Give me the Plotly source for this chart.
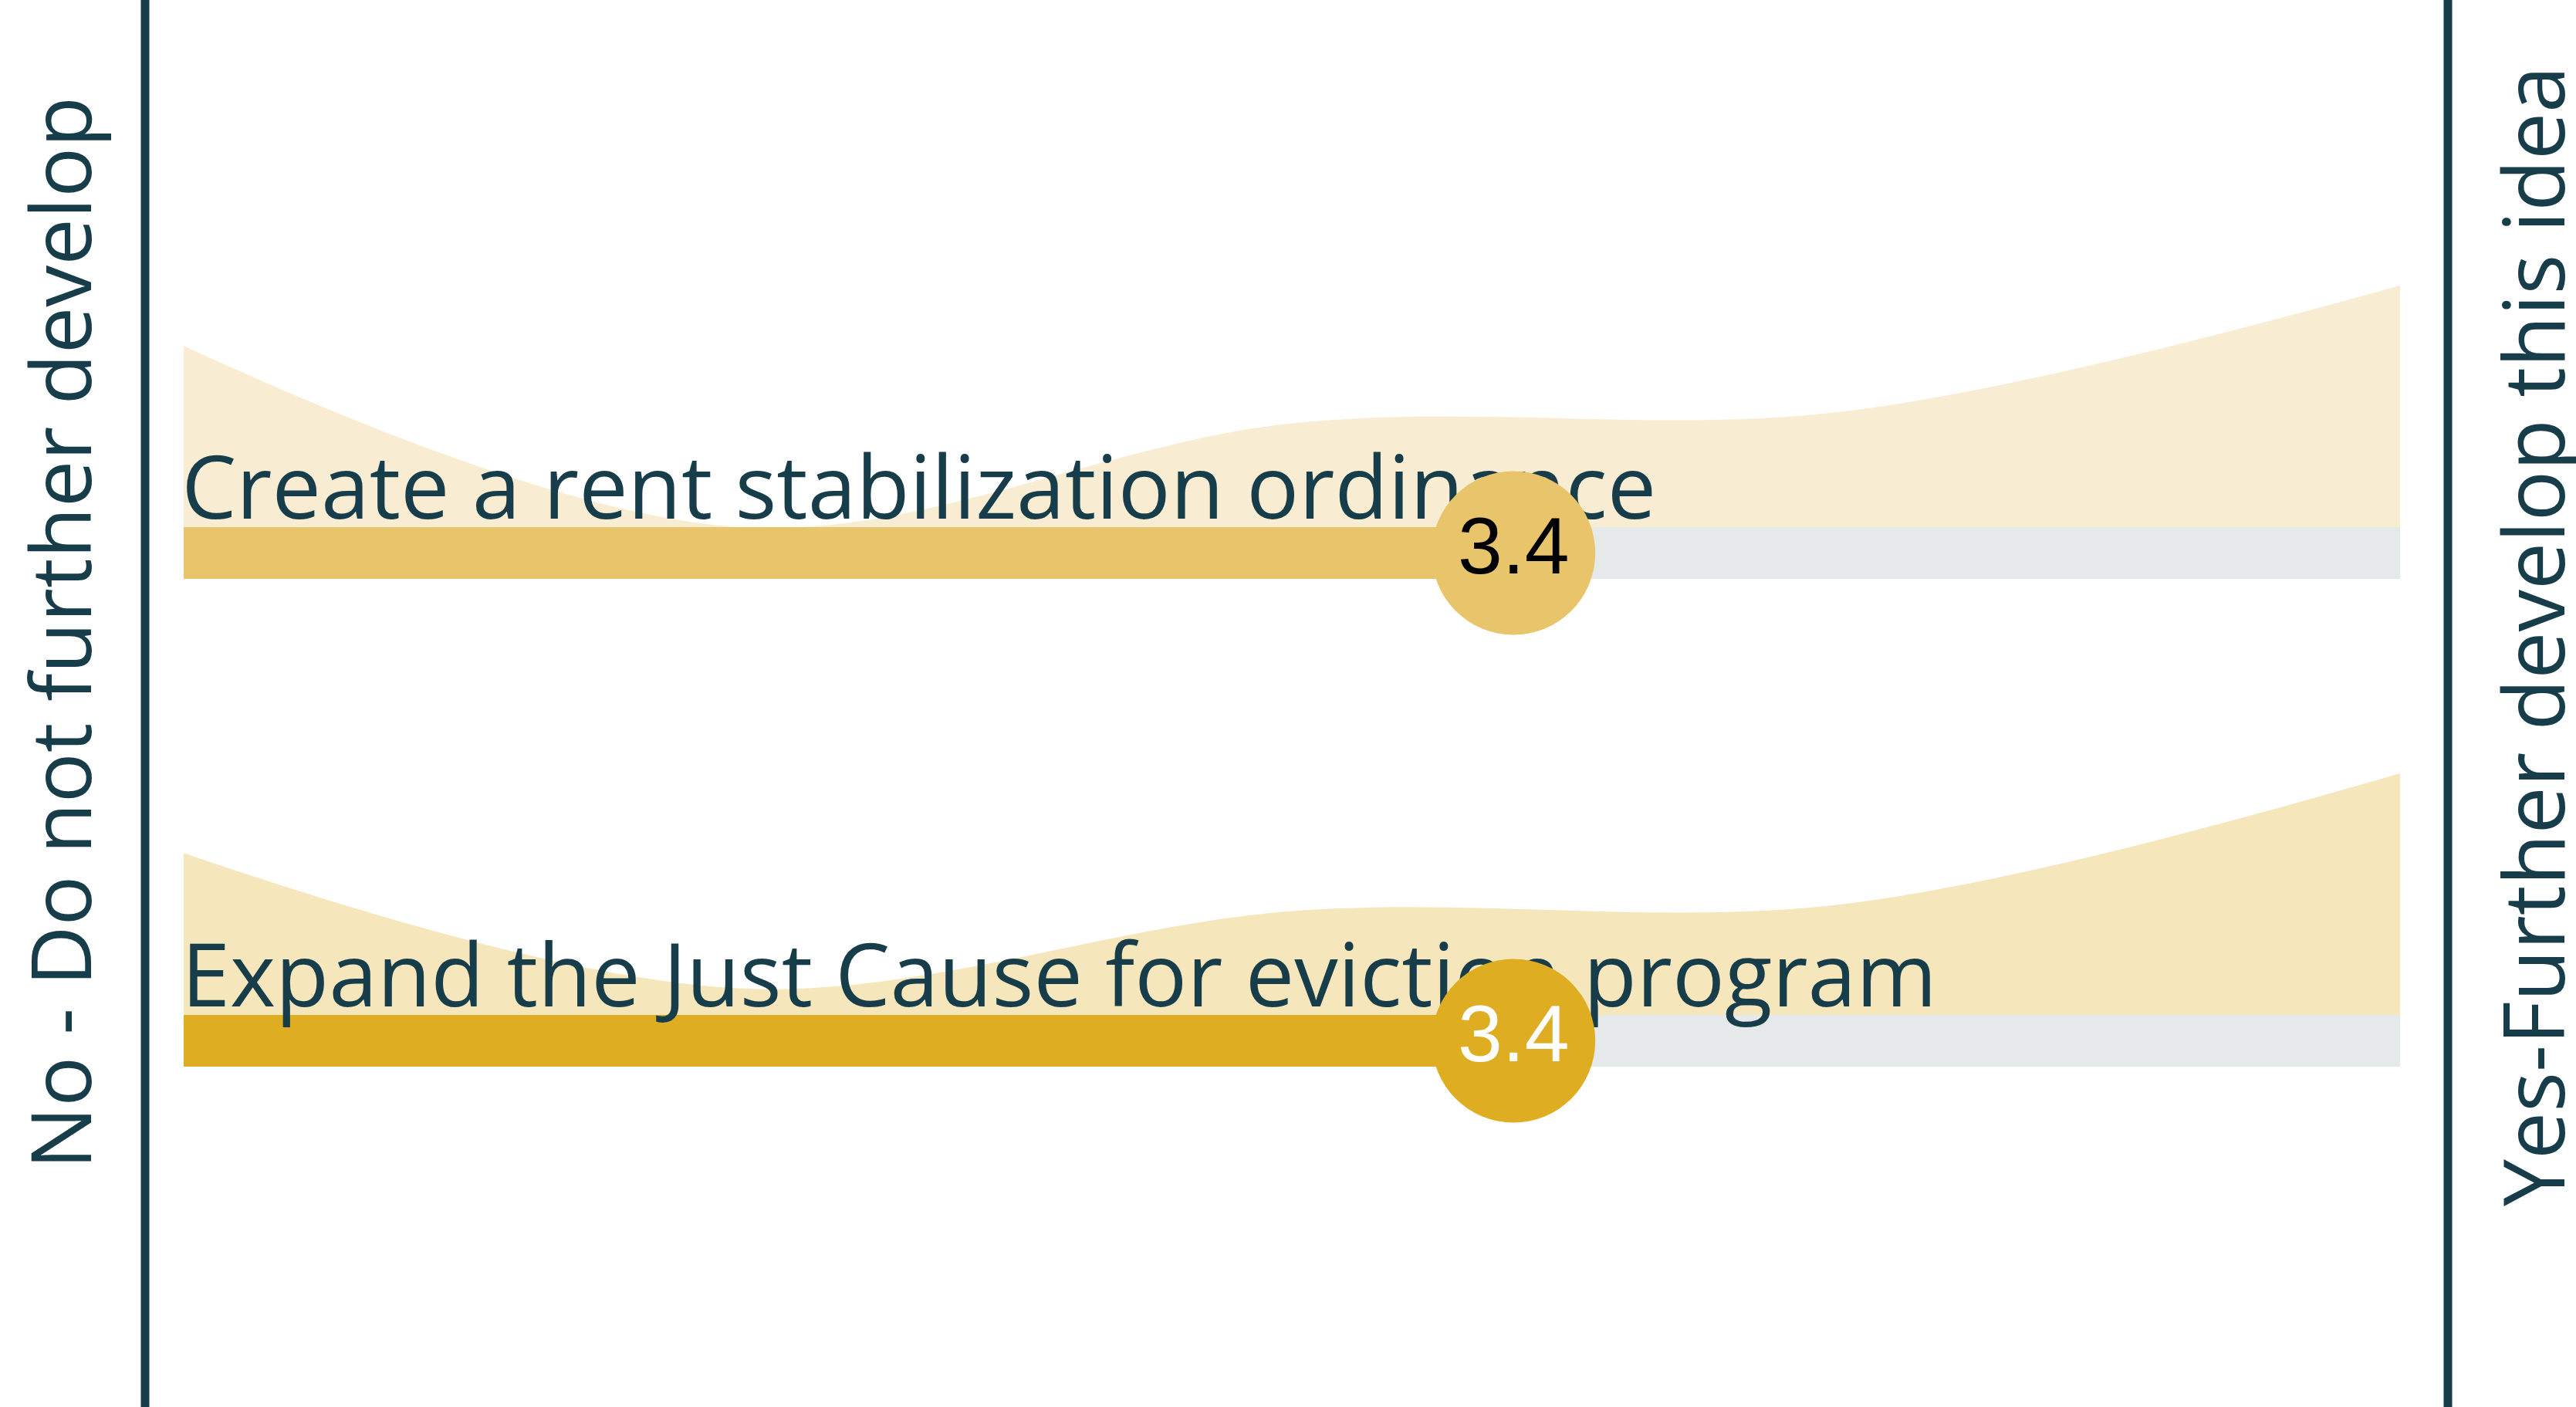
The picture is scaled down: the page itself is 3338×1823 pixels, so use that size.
import plotly.graph_objects as go

# ---- data ----
categories = ["Create a rent stabilization ordinance",
              "Expand the Just Cause for eviction program"]
scores = [3.4, 3.4]
scale_points = [1, 2, 3, 4, 5]
distributions = [
    [0.75, 0.0, 0.43, 0.48, 1.0],
    [0.67, 0.11, 0.43, 0.46, 1.0],
]
left_label = "No - Do not further develop"
right_label = "Yes-Further develop this idea"

# ---- styles ----
bar_colors = ["#e8c56a", "#dfad22"]
area_colors = ["rgba(232,197,106,0.30)", "rgba(223,173,34,0.31)"]
score_text_colors = ["#000000", "#ffffff"]
track_color = "#e5e9e9"
ink = "#173d4a"
W, H = 3338, 1823
row_px = 632.0
first_row_px = 716.5
bar_px = 67
area_px = 313
x_lo, x_hi = 1 - 238 / 718.0, 1 + (W - 238) / 718.0
y_top = -first_row_px / row_px
y_bot = (H - first_row_px) / row_px
half_bar = bar_px / 2.0 / row_px
area_scale = area_px / row_px

fig = go.Figure()

# density areas
for i, dist in enumerate(distributions):
    base = i - half_bar
    fig.add_trace(go.Scatter(x=scale_points, y=[base] * len(scale_points), mode="lines",
                             line=dict(width=0, color=area_colors[i]), hoverinfo="skip",
                             showlegend=False))
    fig.add_trace(go.Scatter(x=scale_points, y=[base - v * area_scale for v in dist],
                             mode="lines", line=dict(width=0, color=area_colors[i], shape="spline",
                                                     smoothing=1.0),
                             fill="tonexty", fillcolor=area_colors[i], hoverinfo="skip",
                             showlegend=False))

# tracks and score bars
for i, s in enumerate(scores):
    fig.add_trace(go.Scatter(x=[scale_points[0], scale_points[-1]], y=[i, i], mode="lines",
                             line=dict(width=bar_px, color=track_color), hoverinfo="skip",
                             showlegend=False))
    fig.add_trace(go.Scatter(x=[scale_points[0], s], y=[i, i], mode="lines",
                             line=dict(width=bar_px, color=bar_colors[i]), hoverinfo="skip",
                             showlegend=False))

# category labels
fig.add_trace(go.Scatter(x=[scale_points[0] - 0.004] * len(categories),
                         y=[i - half_bar + 0.027 for i in range(len(categories))],
                         mode="text", text=categories, textposition="top right",
                         textfont=dict(family="Open Sans", size=113, color=ink),
                         hoverinfo="skip", showlegend=False))

# score circles (on an overlaying axis pair so they sit above the labels)
for i, s in enumerate(scores):
    fig.add_trace(go.Scatter(x=[s], y=[i], mode="markers+text", text=[f"{s:.1f}"],
                             textposition="middle center", xaxis="x2", yaxis="y2",
                             marker=dict(size=212, color=bar_colors[i], line=dict(width=0)),
                             textfont=dict(family="Liberation Sans, Arial", size=104,
                                           color=score_text_colors[i]),
                             hoverinfo="skip", showlegend=False))

# vertical boundary lines
for xp in [188 / W, 3172 / W]:
    fig.add_shape(type="line", xref="paper", yref="paper", x0=xp, x1=xp, y0=0, y1=1,
                  line=dict(color=ink, width=11))

fig.add_annotation(text=left_label, xref="paper", yref="paper", x=76 / W, y=1 - 820 / H,
                   textangle=-90, showarrow=False, xanchor="center", yanchor="middle",
                   font=dict(family="Open Sans", size=108, color=ink))
fig.add_annotation(text=right_label, xref="paper", yref="paper", x=3280 / W, y=1 - 824 / H,
                   textangle=-90, showarrow=False, xanchor="center", yanchor="middle",
                   font=dict(family="Open Sans", size=109, color=ink))

fig.update_layout(width=W, height=H, margin=dict(l=0, r=0, t=0, b=0),
                  paper_bgcolor="white", plot_bgcolor="white", showlegend=False,
                  xaxis=dict(range=[x_lo, x_hi], visible=False, showgrid=False, zeroline=False),
                  yaxis=dict(range=[y_bot, y_top], visible=False, showgrid=False, zeroline=False),
                  xaxis2=dict(range=[x_lo, x_hi], visible=False, overlaying="x",
                              showgrid=False, zeroline=False),
                  yaxis2=dict(range=[y_bot, y_top], visible=False, overlaying="y",
                              showgrid=False, zeroline=False))

fig.write_html("out.html", config={"displayModeBar": False},
               post_script="document.body.style.margin='0';document.body.style.overflow='hidden';")
